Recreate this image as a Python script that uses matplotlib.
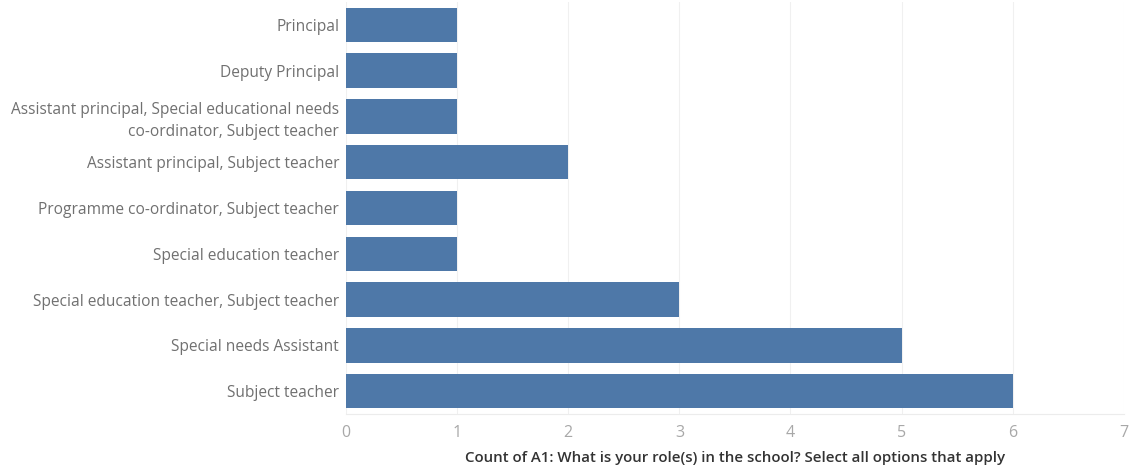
import matplotlib as mpl
from matplotlib import pyplot as plt

mpl.rcParams['font.family'] = ['Open Sans', 'DejaVu Sans']

roles = [
    "Principal",
    "Deputy Principal",
    "Assistant principal, Special educational needs\nco-ordinator, Subject teacher",
    "Assistant principal, Subject teacher",
    "Programme co-ordinator, Subject teacher",
    "Special education teacher",
    "Special education teacher, Subject teacher",
    "Special needs Assistant",
    "Subject teacher",
]
counts = [1, 1, 1, 2, 1, 1, 3, 5, 6]
xticks = [0, 1, 2, 3, 4, 5, 6, 7]
xlabel = "Count of A1: What is your role(s) in the school? Select all options that apply"

fig = plt.figure(figsize=(11.35, 4.68), dpi=100)
ax = fig.add_axes([0.305, 0.115, 0.685, 0.881])

pos = list(range(len(roles)))
ax.barh(pos, counts, height=0.75, color='#4e78a8', zorder=3)
ax.set_ylim(len(roles) - 0.5, -0.5)
ax.set_xlim(0, 7)
ax.set_yticks(pos)
ax.set_yticklabels(roles, fontsize=11.2, color='#707070', linespacing=1.45)
ax.set_xticks(xticks)
ax.set_xticklabels([str(t) for t in xticks], fontsize=11.5, color='#a8a8a8')
ax.tick_params(axis='both', length=0, pad=5)
ax.tick_params(axis='x', pad=8)
ax.grid(axis='x', color='#f0f0f0', linewidth=0.8, zorder=0)
for s in ['top', 'right', 'left']:
    ax.spines[s].set_visible(False)
ax.spines['bottom'].set_color('#ececec')
ax.set_xlabel(xlabel, fontsize=10.8, color='#333333', fontweight='semibold', labelpad=7)

fig.savefig('out.png', dpi=100)
